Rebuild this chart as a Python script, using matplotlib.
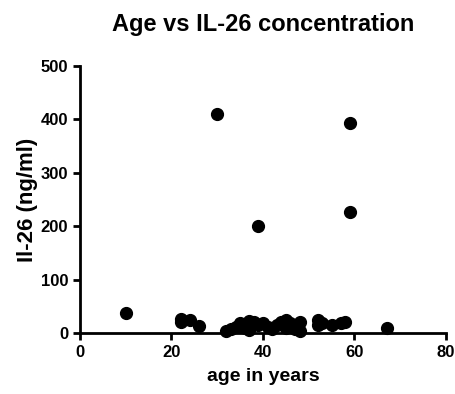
import matplotlib
matplotlib.use('Agg')
import matplotlib.pyplot as plt

# Data
age = [10, 22, 22, 24, 26, 30,
       32, 33, 34, 35, 36, 37, 37, 38, 39, 39, 40, 41, 42, 43, 44, 45, 45,
       46, 47, 48, 48, 52, 52, 53, 55, 57, 58, 59, 59, 67]
il26 = [37, 20, 27, 25, 14, 410,
        3, 8, 12, 18, 10, 22, 5, 20, 15, 200, 18, 12, 8, 15, 20, 25, 10,
        18, 8, 20, 3, 25, 15, 18, 15, 18, 20, 393, 226, 10]

xticks = [0, 20, 40, 60, 80]
yticks = [0, 100, 200, 300, 400, 500]

plt.rcParams['font.family'] = ['Liberation Sans', 'DejaVu Sans']

fig = plt.figure(figsize=(4.56, 3.94), dpi=100)
ax = fig.add_axes([80/456, 1-333/394, 366/456, 267/394])

ax.plot(age, il26, 'o', color='black', markersize=8.5, clip_on=False, zorder=3)

ax.set_xlim(0, 80)
ax.set_ylim(0, 500)
ax.set_xticks(xticks)
ax.set_yticks(yticks)
ax.tick_params(direction='out', width=2, length=5, labelsize=12, colors='black')
for lab in ax.get_xticklabels() + ax.get_yticklabels():
    lab.set_fontweight('bold')
for s in ['top', 'right']:
    ax.spines[s].set_visible(False)
for s in ['left', 'bottom']:
    ax.spines[s].set_linewidth(2)

ax.set_xlabel('age in years', fontsize=14, fontweight='bold', labelpad=6)
ax.set_ylabel('Il-26 (ng/ml)', fontsize=16, fontweight='bold', labelpad=2)
fig.text(0.5 + 35/456, 1 - 24/394, 'Age vs IL-26 concentration', ha='center', va='center',
         fontsize=17, fontweight='bold')

plt.savefig('out.png', dpi=100)
